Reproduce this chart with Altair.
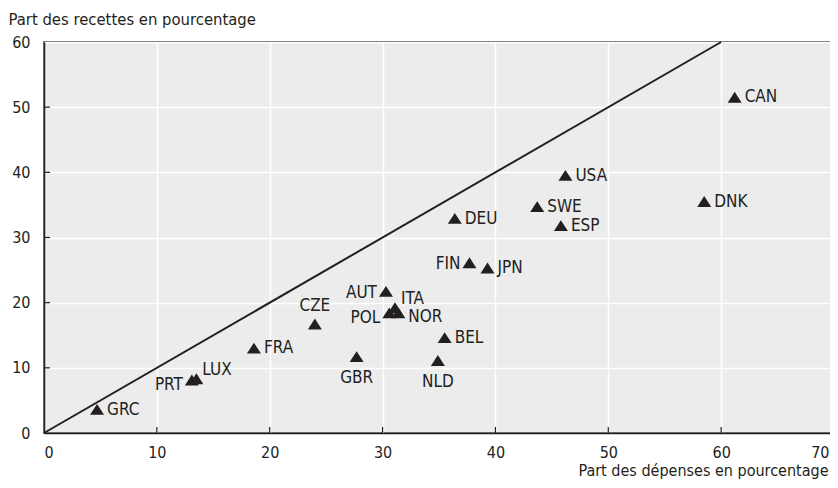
import altair as alt
import pandas as pd

countries = ["GRC", "PRT", "LUX", "FRA", "CZE", "GBR", "AUT", "ITA", "POL", "NOR",
             "BEL", "NLD", "FIN", "JPN", "DEU", "SWE", "ESP", "USA", "DNK", "CAN"]
depenses = [4.7, 13.1, 13.5, 18.6, 24.0, 27.7, 30.3, 31.1, 30.6, 31.4,
            35.5, 34.9, 37.7, 39.3, 36.4, 43.7, 45.8, 46.2, 58.5, 61.2]
recettes = [3.6, 8.1, 8.3, 13.0, 16.7, 11.7, 21.7, 19.2, 18.4, 18.4,
            14.6, 11.1, 26.1, 25.3, 32.9, 34.7, 31.8, 39.5, 35.5, 51.5]
x_ticks = [0, 10, 20, 30, 40, 50, 60, 70]
y_ticks = [0, 10, 20, 30, 40, 50, 60]
diag_line = [0, 60]

x_title = "Part des dépenses en pourcentage"
y_title = "Part des recettes en pourcentage"

# label placement relative to the marker
placement = {
    "right": ["GRC", "FRA", "BEL", "JPN", "DEU", "SWE", "ESP", "USA", "DNK", "CAN"],
    "upright": ["LUX", "ITA"],
    "downright": ["NOR"],
    "left": ["AUT", "FIN"],
    "downleft": ["PRT", "POL"],
    "above": ["CZE"],
    "below": ["GBR", "NLD"],
}
offsets = {
    "right": dict(dx=10, dy=0, align="left"),
    "upright": dict(dx=6, dy=-9, align="left"),
    "downright": dict(dx=10, dy=4, align="left"),
    "left": dict(dx=-9, dy=1, align="right"),
    "downleft": dict(dx=-9, dy=5, align="right"),
    "above": dict(dx=0, dy=-18, align="center"),
    "below": dict(dx=0, dy=21, align="center"),
}

FONT = "'Liberation Sans Narrow', 'DejaVu Sans Condensed', 'Roboto Condensed', Roboto"
INK = "#231f20"
W, H = 790, 391

df = pd.DataFrame({"country": countries, "dep": depenses, "rec": recettes})
diag_df = pd.DataFrame({"dep": diag_line, "rec": diag_line})

xscale = alt.Scale(domain=[0, 70], nice=False, zero=False)
yscale = alt.Scale(domain=[0, 60], nice=False, zero=False)

xaxis = alt.Axis(values=x_ticks, title=x_title, grid=True, gridColor="white", gridWidth=1.5,
                 ticks=False, tickSize=0, domainColor=INK, domainWidth=1.5,
                 labelFont=FONT, labelFontSize=16, labelColor=INK, labelPadding=11,
                 labelFlush=True,
                 labelOffset={"condition": {"test": "datum.value == 70", "value": -5}, "value": 0},
                 titleFont=FONT, titleFontSize=16, titleFontWeight="normal",
                 titleColor=INK, titleAlign="right", titleAnchor="end", titleBaseline="alphabetic",
                 titleX=W - 6, titleY=42)
yaxis = alt.Axis(values=y_ticks, title=y_title, grid=True, gridColor="white", gridWidth=1.5,
                 ticks=False, tickSize=0, domainColor=INK, domainWidth=1.5,
                 labelFont=FONT, labelFontSize=16, labelColor=INK, labelPadding=14,
                 labelBaseline="middle", labelFlush=False,
                 titleFont=FONT, titleFontSize=16.5, titleFontWeight="normal", titleColor=INK,
                 titleAngle=0, titleAlign="left", titleBaseline="alphabetic",
                 titleX=-36, titleY=-18)

base_pts = alt.Chart(df).mark_point(
    shape="M0,-0.8L1,0.75L-1,0.75Z", filled=True, size=196, color=INK, opacity=1
).encode(
    x=alt.X("dep:Q", scale=xscale, axis=xaxis),
    y=alt.Y("rec:Q", scale=yscale, axis=yaxis),
)

diag = alt.Chart(diag_df).mark_line(color=INK, strokeWidth=2).encode(
    x=alt.X("dep:Q", scale=xscale), y=alt.Y("rec:Q", scale=yscale)
)

xt = alt.Chart(pd.DataFrame({"v": x_ticks[1:-1]})).mark_rule(color=INK, strokeWidth=1.2).encode(
    x=alt.X("v:Q", scale=xscale), y=alt.value(H), y2=alt.value(H - 6)
)
yt = alt.Chart(pd.DataFrame({"v": y_ticks[1:-1]})).mark_rule(color=INK, strokeWidth=1.2).encode(
    y=alt.Y("v:Q", scale=yscale), x=alt.value(0), x2=alt.value(6)
)

layers = [xt, yt, diag, base_pts]
for key, names in placement.items():
    o = offsets[key]
    layers.append(
        alt.Chart(df).transform_filter(alt.FieldOneOfPredicate(field="country", oneOf=names))
        .mark_text(font=FONT, fontSize=17, color=INK, baseline="middle",
                   dx=o["dx"], dy=o["dy"], align=o["align"])
        .encode(x=alt.X("dep:Q", scale=xscale), y=alt.Y("rec:Q", scale=yscale),
                text="country:N")
    )

chart = alt.layer(*layers).properties(
    width=W, height=H,
    autosize=alt.AutoSizeParams(type="none"),
    padding={"left": 36, "top": 34, "right": -4, "bottom": 47},
).configure_view(fill="#ececec", stroke=INK, strokeWidth=1.5)

chart.save("out.html", embed_options={"renderer": "svg", "actions": False})
